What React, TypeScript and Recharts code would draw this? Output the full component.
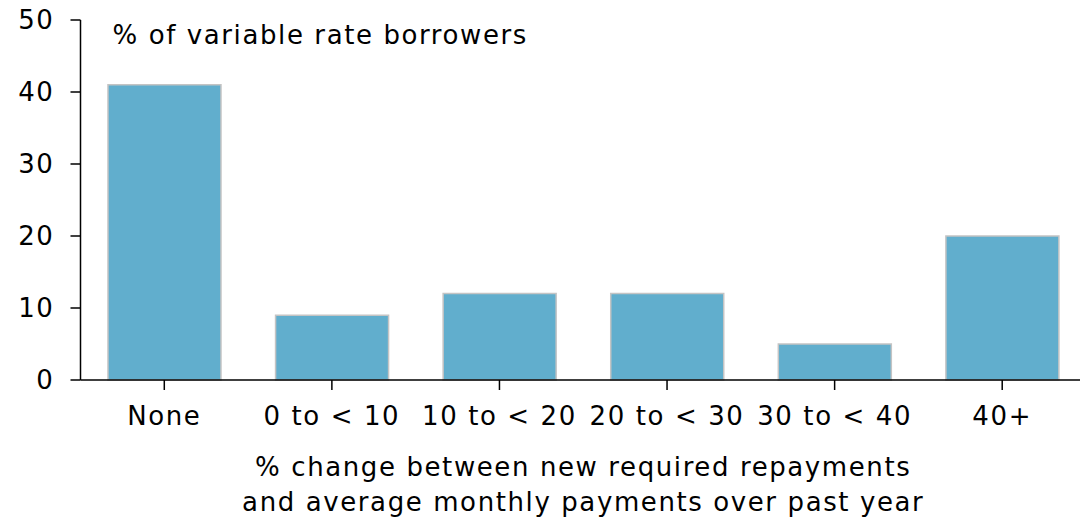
import { Bar, BarChart, Label, XAxis, YAxis } from "recharts";

const categories = ["None", "0 to < 10", "10 to < 20", "20 to < 30", "30 to < 40", "40+"];
const shares = [41, 9, 12, 12, 5, 20];
const yTicks = [0, 10, 20, 30, 40, 50];

const data = categories.map((c, i) => ({ bucket: c, share: shares[i] }));

const FONT = "'DejaVu Sans', sans-serif";
const SPACING = 1.6;

function XTitle(props: any) {
  const vb = props.viewBox;
  const cx = vb.x + vb.width / 2;
  return (
    <text x={cx} textAnchor="middle" fontFamily={FONT} fontSize={26} letterSpacing={SPACING} fill="#000">
      <tspan x={cx} y={vb.y + 96}>% change between new required repayments</tspan>
      <tspan x={cx} y={vb.y + 131}>and average monthly payments over past year</tspan>
    </text>
  );
}

function YTitle(props: any) {
  const vb = props.viewBox;
  return (
    <text x={vb.x + vb.width + 32} y={vb.y + 24} fontFamily={FONT} fontSize={26} letterSpacing={SPACING} fill="#000">
      % of variable rate borrowers
    </text>
  );
}

export default function App() {
  return (
    <div style={{ position: "absolute", left: 0, top: 0, width: 1080, height: 520, overflow: "hidden", background: "#fff" }}>
      <BarChart width={1086} height={520} data={data} margin={{ top: 20, right: 0, left: 0, bottom: 0 }} barCategoryGap="16.4%">
        <XAxis
          dataKey="bucket"
          height={140}
          tickSize={10}
          tickMargin={17}
          stroke="#000"
          strokeWidth={1.5}
          tick={{ fontSize: 26, fontFamily: FONT, fill: "#000", letterSpacing: SPACING }}
        >
          <Label content={<XTitle />} />
        </XAxis>
        <YAxis
          width={80.5}
          domain={[0, 50]}
          ticks={yTicks}
          tickSize={10}
          tickMargin={16}
          stroke="#000"
          strokeWidth={1.5}
          tick={{ fontSize: 26, fontFamily: FONT, fill: "#000", letterSpacing: SPACING }}
        >
          <Label content={<YTitle />} />
        </YAxis>
        <Bar dataKey="share" fill="#61aecd" stroke="#c4c4c4" strokeWidth={1.5} isAnimationActive={false} />
      </BarChart>
    </div>
  );
}
